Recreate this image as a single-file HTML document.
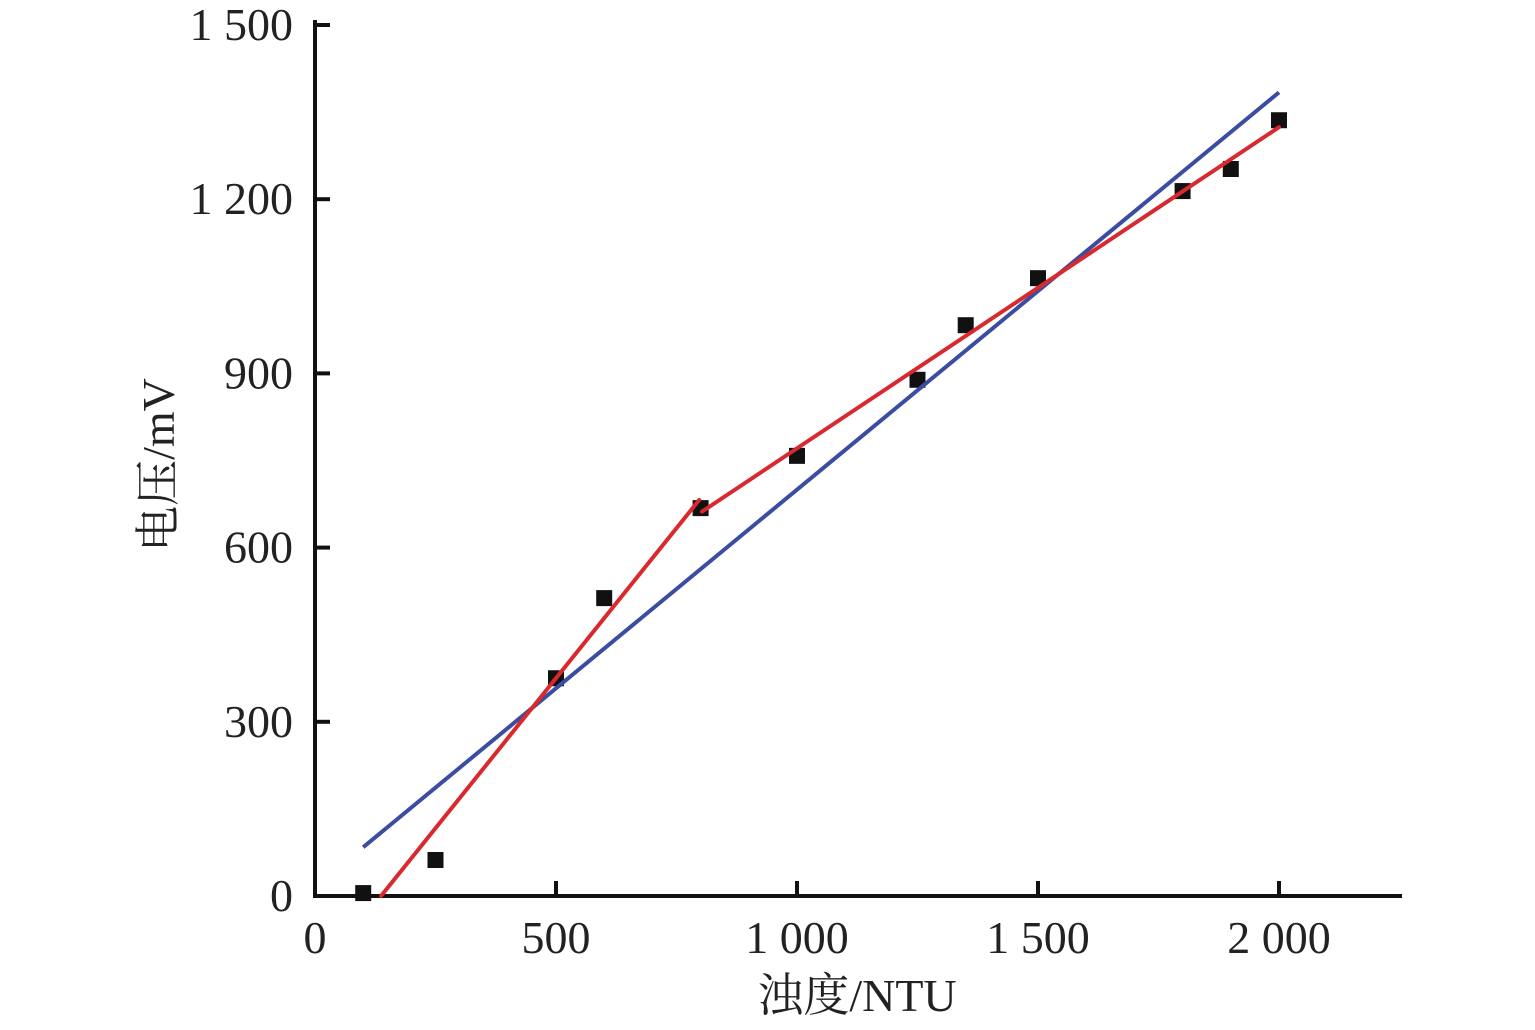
<!DOCTYPE html>
<html><head><meta charset="utf-8"><style>
html,body{margin:0;padding:0;background:#fff;}
svg text{font-family:"Liberation Serif","Noto Serif CJK SC",serif;fill:#222;}
</style></head><body>
<svg id="chart" width="1535" height="1025" viewBox="0 0 1535 1025" xmlns="http://www.w3.org/2000/svg"></svg>
<script>
const turbidity = [100, 250, 500, 600, 800, 1000, 1250, 1350, 1500, 1800, 1900, 2000];
const voltage = [5, 62, 375, 513, 668, 758, 889, 983, 1064, 1214, 1252, 1336];
const linearFit = [[100, 84], [2000, 1384]];
const piecewiseFit = [[[137, 0], [797, 682]], [[803, 662], [2000, 1324]]];
const xTicks = [0, 500, 1000, 1500, 2000];
const xTickLabels = ["0", "500", "1 000", "1 500", "2 000"];
const yTicks = [0, 300, 600, 900, 1200, 1500];
const yTickLabels = ["0", "300", "600", "900", "1 200", "1 500"];

const NS = "http://www.w3.org/2000/svg";
const svg = document.getElementById("chart");
const X0 = 315, XS = (1279 - 315) / 2000;
const Y0 = 896, YS = (896 - 25) / 1500;
const xs = v => X0 + v * XS;
const ys = v => Y0 - v * YS;
function mk(tag, attrs, parent) {
  const e = document.createElementNS(NS, tag);
  for (const k in attrs) e.setAttribute(k, attrs[k]);
  (parent || svg).appendChild(e);
  return e;
}
let ax = mk("path", {d: `M${X0} 20 L${X0} ${Y0} L1402 ${Y0}`, fill: "none", stroke: "#111", "stroke-width": 4});


xTicks.forEach((t, i) => {
  if (t > 0) {
    const tk = mk("line", {x1: xs(t), x2: xs(t), y1: Y0, y2: Y0 - 15, stroke: "#111", "stroke-width": 4});
    
    
  }
  const lb = mk("text", {x: xs(t), y: 953, "font-size": 46, "text-anchor": "middle"});
  lb.textContent = xTickLabels[i];
  
  
});
yTicks.forEach((t, i) => {
  if (t > 0) {
    const tk = mk("line", {x1: X0, x2: X0 + 15, y1: ys(t), y2: ys(t), stroke: "#111", "stroke-width": 4});
    
    
  }
  const lb = mk("text", {x: 293, y: ys(t) + 15, "font-size": 46, "text-anchor": "end"});
  lb.textContent = yTickLabels[i];
  
  
});
const xt = mk("text", {x: 857, y: 1011, "font-size": 46, "text-anchor": "middle"});
xt.textContent = "浊度/NTU";


const yt = mk("text", {x: 0, y: 0, "font-size": 46, "text-anchor": "middle", transform: "translate(174,465) rotate(-90)"});
yt.textContent = "电压/mV";


turbidity.forEach((t, i) => {
  const p = mk("rect", {x: xs(t) - 8, y: ys(voltage[i]) - 8, width: 16, height: 16, fill: "#111"});
  
  
});
const bl = mk("line", {x1: xs(linearFit[0][0]), y1: ys(linearFit[0][1]), x2: xs(linearFit[1][0]), y2: ys(linearFit[1][1]), stroke: "#3a4da0", "stroke-width": 4});


piecewiseFit.forEach(seg => {
  const r = mk("line", {x1: xs(seg[0][0]), y1: ys(seg[0][1]), x2: xs(seg[1][0]), y2: ys(seg[1][1]), stroke: "#d82a2e", "stroke-width": 4, "stroke-linecap": "round"});
  
  
});
</script>
</body></html>
